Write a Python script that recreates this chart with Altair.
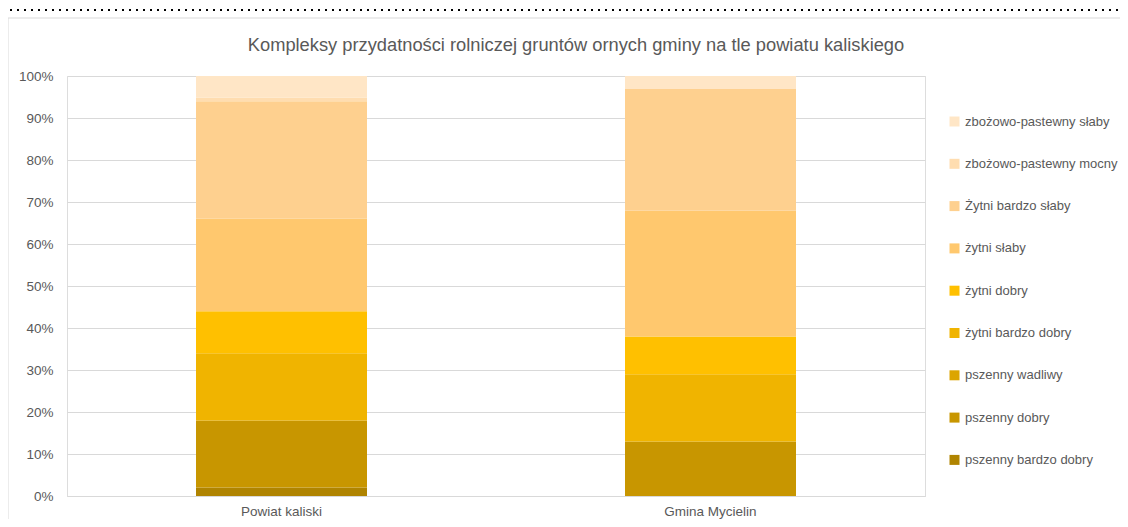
import altair as alt
import pandas as pd

categories = ["Powiat kaliski", "Gmina Mycielin"]
# stacking order: bottom -> top
classes = [
    "pszenny bardzo dobry",
    "pszenny dobry",
    "pszenny wadliwy",
    "żytni bardzo dobry",
    "żytni dobry",
    "żytni słaby",
    "Żytni bardzo słaby",
    "zbożowo-pastewny mocny",
    "zbożowo-pastewny słaby",
]
colors = ["#B08400", "#C89600", "#DCA500", "#F0B400", "#FFC000",
          "#FFC86E", "#FED08F", "#FFDDB0", "#FFE6C6"]
powiat = [2, 16, 0, 16, 10, 22, 28, 0.9, 5.1]
gmina = [0, 13, 0, 16, 9, 30, 29, 0, 3]
title_text = "Kompleksy przydatności rolniczej gruntów ornych gminy na tle powiatu kaliskiego"

rows = []
for cat, vals in zip(categories, [powiat, gmina]):
    for i, (cl, v) in enumerate(zip(classes, vals)):
        rows.append({"jednostka": cat, "klasa": cl, "udzial": v / 100.0, "ord": i})
df = pd.DataFrame(rows)

legend_order = classes[::-1]
color_order = colors[::-1]

FONT = "Liberation Sans"
GREY = "#595959"

bars = alt.Chart(df).mark_bar(size=171).encode(
    x=alt.X("jednostka:N", sort=categories, title=None,
            scale=alt.Scale(paddingInner=0.6, paddingOuter=0.3),
            axis=alt.Axis(labelAngle=0, labelFont=FONT, labelFontSize=13.5,
                          labelColor=GREY, ticks=False, domain=True,
                          domainColor="#D9D9D9", labelPadding=8)),
    y=alt.Y("udzial:Q", stack="zero", title=None,
            scale=alt.Scale(domain=[0, 1]),
            axis=alt.Axis(format=".0%", values=[i / 10 for i in range(11)],
                          labelFont=FONT, labelFontSize=13.5, labelColor=GREY,
                          ticks=False, domain=False, gridColor="#D9D9D9",
                          labelPadding=14)),
    color=alt.Color("klasa:N",
                    scale=alt.Scale(domain=legend_order, range=color_order),
                    legend=alt.Legend(title=None, orient="none", legendX=881,
                                      legendY=39, symbolType="square",
                                      symbolSize=100, symbolStrokeWidth=0,
                                      labelFont=FONT, labelFontSize=13,
                                      labelColor=GREY, rowPadding=28.3,
                                      labelOffset=4, labelLimit=400)),
    order=alt.Order("ord:Q", sort="ascending"),
)

one = pd.DataFrame({"a": [0]})

frame = alt.Chart(one).mark_rect(
    fill=None, stroke="#D9D9D9", strokeWidth=1
).encode(
    x=alt.value(-59), x2=alt.value(1090), y=alt.value(-58), y2=alt.value(470)
)

dots = alt.Chart(one).mark_rule(
    color="#000000", strokeWidth=2, strokeDash=[2, 5]
).encode(
    x=alt.value(-57), x2=alt.value(1065), y=alt.value(-66)
)

title = alt.Chart(one).mark_text(
    font=FONT, fontSize=18.3, color=GREY, align="center", baseline="alphabetic"
).encode(
    text=alt.value(title_text), x=alt.value(509), y=alt.value(-25)
)

chart = alt.layer(frame, dots, title, bars).properties(
    width=858, height=420,
    autosize=alt.AutoSizeParams(type="none"),
    padding={"left": 59, "top": 68, "right": 195, "bottom": 23},
).configure_view(stroke=None).configure(background="white")

chart.save("out.html", embed_options={"renderer": "svg", "actions": False})
